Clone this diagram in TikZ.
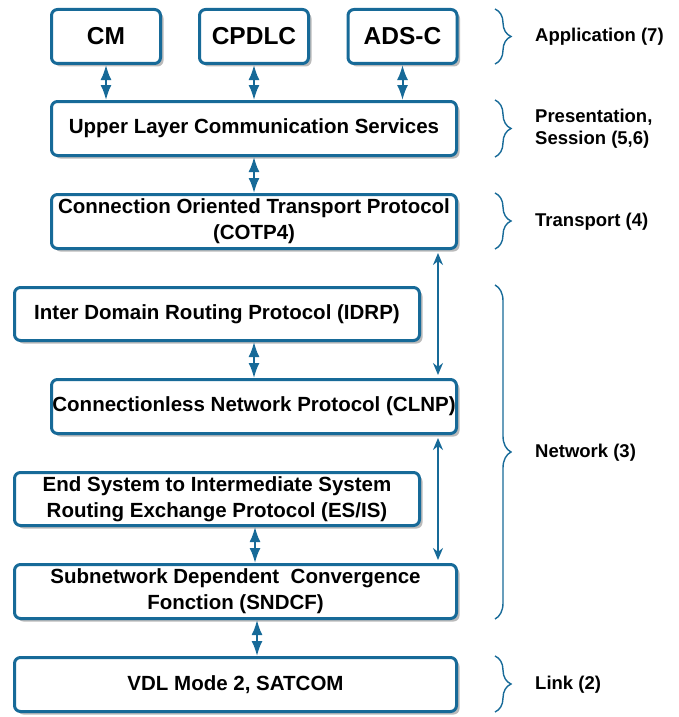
\documentclass[tikz,border=0pt]{standalone}
\usepackage{fontspec}
\setmainfont{Liberation Sans}
\usetikzlibrary{arrows.meta,shadows,decorations.pathreplacing,calc}
\definecolor{lblue}{RGB}{23,106,152}
\tikzset{
  layerbox/.style={draw=lblue, line width=3pt, rounded corners=6pt, fill=white,
    align=center, font=\bfseries\fontsize{20.5}{26}\selectfont, inner sep=0pt,
    drop shadow={shadow xshift=3pt, shadow yshift=-3pt, fill=black!27, opacity=1}},
  appbox/.style={layerbox, minimum width=109pt, minimum height=54pt, font=\bfseries\fontsize{24.5}{28}\selectfont},
  fatarrow/.style={draw=lblue, line width=2pt, {Latex[length=15pt,width=11pt]}-{Latex[length=15pt,width=11pt]}},
  thinarrow/.style={draw=lblue, line width=1.6pt, {Stealth[length=12pt,width=10pt]}-{Stealth[length=12pt,width=10pt]}, shorten <=3pt, shorten >=3pt},
  bracebar/.style={draw=lblue, line width=1.4pt, decorate, decoration={brace, amplitude=16pt}},
  layerlabel/.style={anchor=west, font=\bfseries\fontsize{18.5}{22}\selectfont, align=left, inner sep=0pt}
}
\begin{document}
\begin{tikzpicture}[x=1pt, y=-1pt]
\useasboundingbox (0,0) rectangle (678,717);
% application boxes
\node[appbox] (cm) at (106,36.5) {CM};
\node[appbox] (cpdlc) at (254,36.5) {CPDLC};
\node[appbox] (adsc) at (402.5,36.5) {ADS-C};
% layer boxes
\node[layerbox, minimum width=405pt, minimum height=54pt] (ulcs) at (254,128.5) {Upper Layer Communication Services};
\node[layerbox, minimum width=405pt, minimum height=54pt] (cotp) at (254,221.5) {Connection Oriented Transport Protocol\\(COTP4)};
\node[layerbox, minimum width=405pt, minimum height=53pt] (idrp) at (217,314) {Inter Domain Routing Protocol (IDRP)};
\node[layerbox, minimum width=405pt, minimum height=54pt] (clnp) at (254,406.5) {Connectionless Network Protocol (CLNP)};
\node[layerbox, minimum width=405pt, minimum height=53pt] (esis) at (217,499) {End System to Intermediate System\\Routing Exchange Protocol (ES/IS)};
\node[layerbox, minimum width=442pt, minimum height=54pt] (sndcf) at (235.5,591.5) {Subnetwork Dependent \ Convergence\\Fonction (SNDCF)};
\node[layerbox, minimum width=442pt, minimum height=54pt] (vdl) at (235.5,684.5) {VDL Mode 2, SATCOM};
% fat double arrows
\draw[fatarrow] (cm.south) -- (cm.south |- ulcs.north);
\draw[fatarrow] (cpdlc.south) -- (cpdlc.south |- ulcs.north);
\draw[fatarrow] (adsc.south) -- (adsc.south |- ulcs.north);
\draw[fatarrow] (ulcs.south) -- (cotp.north);
\draw[fatarrow] (clnp.north |- idrp.south) -- (clnp.north);
\draw[fatarrow] ([xshift=1pt]clnp.south |- esis.south) -- ([xshift=1pt]clnp.south |- sndcf.north);
\draw[fatarrow] ([xshift=3pt]clnp.south |- sndcf.south) -- ([xshift=3pt]clnp.south |- vdl.north);
% long thin arrows
\draw[thinarrow] ([xshift=-20pt]cotp.south east) -- ([xshift=-20pt]clnp.north east);
\draw[thinarrow] ([xshift=-20pt]clnp.south east) -- ([xshift=-20pt]clnp.south east |- sndcf.north);
% braces
\coordinate (b1t) at (495,9);   \coordinate (b1b) at (495,64);
\coordinate (b2t) at (495,100); \coordinate (b2b) at (495,157);
\coordinate (b3t) at (495,193); \coordinate (b3b) at (495,249);
\coordinate (b4t) at (495,285); \coordinate (b4b) at (495,619);
\coordinate (b5t) at (495,656); \coordinate (b5b) at (495,712);
\draw[bracebar] (b1t) -- (b1b);
\draw[bracebar] (b2t) -- (b2b);
\draw[bracebar] (b3t) -- (b3b);
\draw[bracebar] (b4t) -- (b4b);
\draw[bracebar] (b5t) -- (b5b);
% labels
\node[layerlabel] (lapp) at (535,36.5) {Application (7)};
\node[layerlabel] (lpres) at (535,129) {Presentation,\\Session (5,6)};
\node[layerlabel] (ltrans) at (535,221.5) {Transport (4)};
\node[layerlabel] (lnet) at (535,452.5) {Network (3)};
\node[layerlabel] (llink) at (535,684.5) {Link (2)};
\end{tikzpicture}
\end{document}
